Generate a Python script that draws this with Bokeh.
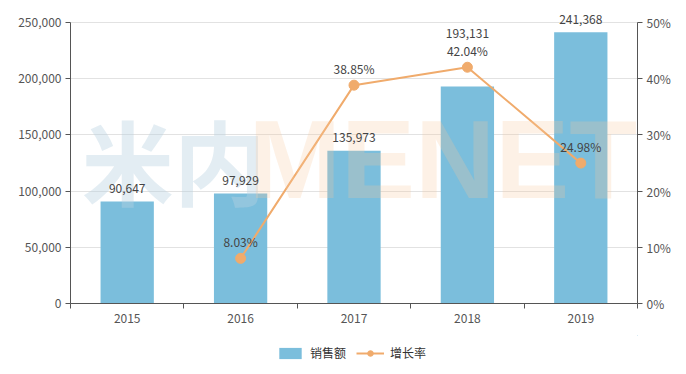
from bokeh.plotting import figure
from bokeh.layouts import column
from bokeh.models import (ColumnDataSource, LinearAxis, Range1d, FixedTicker,
                          NumeralTickFormatter, PrintfTickFormatter, LabelSet,
                          Label, Legend, LegendItem)
from bokeh.core.properties import value
from bokeh.embed import file_html
from bokeh.resources import INLINE

# ---- data ----
years = ["2015", "2016", "2017", "2018", "2019"]
sales = [90647, 97929, 135973, 193131, 241368]
growth = [None, 8.03, 38.85, 42.04, 24.98]
sales_ticks = [0, 50000, 100000, 150000, 200000, 250000]
growth_ticks = [0, 10, 20, 30, 40, 50]

FONT = "Noto Sans CJK SC"
BAR = "#7bbedc"
LINE = "#f0ab6c"
TXT = "#444444"
AX = "#555555"

PLOT_H = 281          # pixel height of the 0..max axis span
TOP_PAD = 14          # room above the axis top for value labels
frac = 1 + TOP_PAD / PLOT_H

xs = [i + 0.5 for i in range(len(years))]
# extra lift for the 2018 bar label (moved above the line label as in the reference)
lift = [13 if y != "2018" else 53 for y in years]

bar_src = ColumnDataSource(dict(x=xs, top=sales,
                                lab=[f"{v:,}" for v in sales], off=lift))
g_idx = [i for i, g in enumerate(growth) if g is not None]
line_src = ColumnDataSource(dict(x=[xs[i] for i in g_idx],
                                 y=[growth[i] for i in g_idx],
                                 lab=[f"{growth[i]:.2f}%" for i in g_idx]))

p = figure(frame_width=567, frame_height=PLOT_H + TOP_PAD, output_backend="svg",
           toolbar_location=None,
           x_range=Range1d(0, len(years)),
           y_range=Range1d(sales_ticks[0], sales_ticks[-1] * frac),
           min_border_left=70, min_border_right=41, min_border_top=22 - TOP_PAD,
           min_border_bottom=32)
p.extra_y_ranges = {"pct": Range1d(growth_ticks[0], growth_ticks[-1] * frac)}
p.outline_line_color = None
p.background_fill_color = "white"
p.xgrid.visible = False
p.ygrid.grid_line_color = "#e2e2e2"
p.ygrid.ticker = FixedTicker(ticks=sales_ticks)

# x axis: labels at centres, ticks at boundaries
xa = p.xaxis[0]
xa.ticker = FixedTicker(ticks=xs, minor_ticks=list(range(len(years) + 1)))
xa.major_label_overrides = {x: y for x, y in zip(xs, years)}
xa.major_tick_out = 0
xa.major_tick_in = 0
xa.minor_tick_out = 5
xa.minor_tick_in = 0
xa.minor_tick_line_color = AX
xa.axis_line_color = AX
xa.major_label_standoff = 5

ya = p.yaxis[0]
ya.ticker = FixedTicker(ticks=sales_ticks)
ya.formatter = NumeralTickFormatter(format="0,0")
ya.bounds = (sales_ticks[0], sales_ticks[-1])
ya.minor_tick_line_color = None
ya.major_tick_out = 5
ya.major_tick_in = 0
ya.axis_line_color = AX
ya.major_tick_line_color = AX
ya.major_label_standoff = 4

ra = LinearAxis(y_range_name="pct", ticker=FixedTicker(ticks=growth_ticks),
                formatter=PrintfTickFormatter(format="%d%%"),
                bounds=(growth_ticks[0], growth_ticks[-1]))
ra.minor_tick_line_color = None
ra.major_tick_out = 5
ra.major_tick_in = 0
ra.axis_line_color = AX
ra.major_tick_line_color = AX
ra.major_label_standoff = 4
p.add_layout(ra, "right")

for ax in (xa, ya, ra):
    ax.major_label_text_font = FONT
    ax.major_label_text_font_size = "12px"
    ax.major_label_text_color = "#555555"

bars = p.vbar(x="x", top="top", width=0.47, source=bar_src,
              fill_color=BAR, line_color=None)

# watermark
p.add_layout(Label(x=0.10, y=129000, text="米内", text_font=FONT,
                   text_font_size="92px", text_font_style="bold",
                   text_color="#b9d3e0", text_alpha=0.4,
                   text_baseline="alphabetic"))
p.add_layout(Label(x=1.57, y=128000, text="MENET", text_font="Liberation Sans",
                   text_font_size="111px", text_font_style="bold",
                   text_color="#f8c89a", text_alpha=0.25,
                   text_baseline="alphabetic"))

line = p.line(x="x", y="y", source=line_src, y_range_name="pct",
              line_color=LINE, line_width=2)
pts = p.scatter(x="x", y="y", source=line_src, y_range_name="pct",
                size=10, fill_color=LINE, line_color=LINE)

p.add_layout(LabelSet(x="x", y="top", text="lab", source=bar_src,
                      y_offset="off", text_align="center",
                      text_baseline="middle", text_font=value(FONT),
                      text_font_size="12px", text_color=TXT))
p.add_layout(LabelSet(x="x", y="y", text="lab", source=line_src,
                      y_range_name="pct", y_offset=17, text_align="center",
                      text_baseline="middle", text_font=value(FONT),
                      text_font_size="12px", text_color=TXT))

# ---- legend strip: a second figure whose renderers use the same data,
# with its ranges set away from the data so only the legend shows ----
leg = figure(width=678, height=39, output_backend="svg", toolbar_location=None,
             x_range=Range1d(-3, -2), y_range=Range1d(-3, -2),
             min_border=0)
leg.axis.visible = False
leg.grid.visible = False
leg.outline_line_color = None
lb = leg.vbar(x="x", top="top", width=0.47, source=bar_src,
              fill_color=BAR, line_color=None)
ll = leg.line(x="x", y="y", source=line_src, line_color=LINE, line_width=2)
lp = leg.scatter(x="x", y="y", source=line_src, size=10,
                 fill_color=LINE, line_color=LINE)
legend = Legend(items=[LegendItem(label="销售额", renderers=[lb]),
                       LegendItem(label="增长率", renderers=[ll, lp])],
                orientation="horizontal", location=(206, 13),
                border_line_color=None, background_fill_alpha=0,
                label_text_font=FONT, label_text_font_size="12px",
                label_text_color="#333333", glyph_width=28, glyph_height=14,
                spacing=10, label_standoff=6, padding=0, margin=0)
leg.add_layout(legend, "center")

open("out.html", "w").write(file_html(column(p, leg, spacing=0), INLINE))
